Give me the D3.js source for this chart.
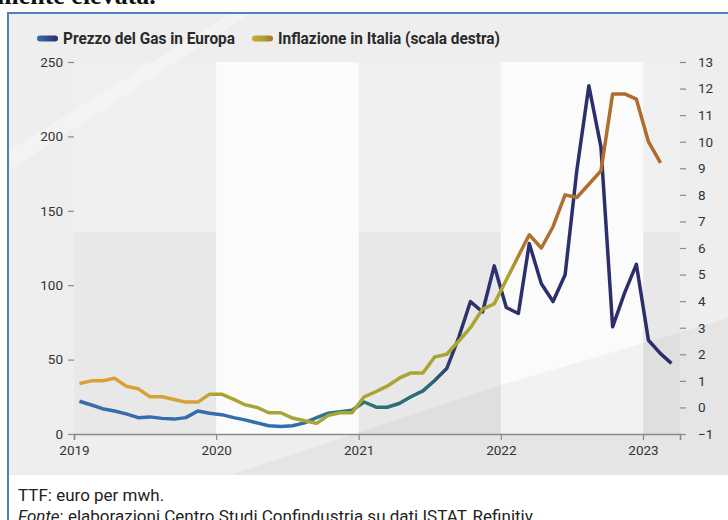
<!DOCTYPE html>
<html>
<head>
<meta charset="utf-8">
<script src="https://cdn.jsdelivr.net/npm/d3@7"></script>
<style>
  body { margin: 0; background: #fff; }
  svg { display: block; font-family: Roboto, "Liberation Sans", sans-serif; }
</style>
</head>
<body>
<div id="chart"></div>
<script>
// Monthly data, Jan 2019 onwards
var years = [2019, 2020, 2021, 2022, 2023];
var gasPrice = [
  22, 19.5, 17, 15.5, 13.5, 11, 11.5, 10.5, 10, 11, 15.5, 14,
  13, 11, 9.5, 7.5, 5.5, 5, 5.5, 7.5, 11, 14, 15, 16,
  21.5, 18, 18, 20.5, 25, 29, 36, 44, 65, 89, 82, 113,
  85, 81, 128, 101, 89, 107, 177, 234, 193, 72, 95, 114,
  63, 54, 47.5
];
var inflation = [
  0.9, 1.0, 1.0, 1.1, 0.8, 0.7, 0.4, 0.4, 0.3, 0.2, 0.2, 0.5,
  0.5, 0.3, 0.1, 0.0, -0.2, -0.2, -0.4, -0.5, -0.6, -0.3, -0.2, -0.2,
  0.4, 0.6, 0.8, 1.1, 1.3, 1.3, 1.9, 2.0, 2.5, 3.0, 3.7, 3.9,
  4.8, 5.7, 6.5, 6.0, 6.8, 8.0, 7.9, 8.4, 8.9, 11.8, 11.8, 11.6,
  10.0, 9.2
];
var leftTicks = [0, 50, 100, 150, 200, 250];
var rightTicks = [-1, 0, 1, 2, 3, 4, 5, 6, 7, 8, 9, 10, 11, 12, 13];
var legendLabels = ["Prezzo del Gas in Europa", "Inflazione in Italia (scala destra)"];
var noteText = "TTF: euro per mwh.";
var sourceLabel = "Fonte";
var sourceText = ": elaborazioni Centro Studi Confindustria su dati ISTAT, Refinitiv.";

var width = 728, height = 520;
var plot = {left: 74, right: 680, top: 62, bottom: 434};

var svg = d3.select("#chart").append("svg")
    .attr("width", width)
    .attr("height", height);

var x = d3.scaleTime()
    .domain([new Date(2019, 0, 1), new Date(2023, 3, 6)])
    .range([plot.left, plot.right]);
var yLeft = d3.scaleLinear().domain([0, 250]).range([plot.bottom, plot.top]);
var yRight = d3.scaleLinear().domain([-1, 13]).range([plot.bottom, plot.top]);

var gasData = gasPrice.map(function(v, i) { return {date: new Date(2019, i, 15), value: v}; });
var inflData = inflation.map(function(v, i) { return {date: new Date(2019, i, 15), value: v}; });

// gradients for the two lines
var defs = svg.append("defs");
function makeGradient(id, stops) {
  var g = defs.append("linearGradient")
      .attr("id", id)
      .attr("gradientUnits", "userSpaceOnUse")
      .attr("x1", plot.left).attr("x2", plot.right)
      .attr("y1", 0).attr("y2", 0);
  stops.forEach(function(s) {
    g.append("stop")
      .attr("offset", (x(s[0]) - plot.left) / (plot.right - plot.left))
      .attr("stop-color", s[1]);
  });
}
makeGradient("gasGrad", [
  [new Date(2019, 0, 1), "#3a6cab"],
  [new Date(2020, 6, 1), "#2f6fae"],
  [new Date(2021, 0, 1), "#2a7575"],
  [new Date(2021, 6, 1), "#2b6a76"],
  [new Date(2021, 8, 1), "#2e316f"],
  [new Date(2023, 3, 1), "#2c2c6a"]
]);
makeGradient("inflGrad", [
  [new Date(2019, 0, 1), "#d9a136"],
  [new Date(2019, 10, 15), "#d6a236"],
  [new Date(2020, 0, 1), "#a8a533"],
  [new Date(2022, 0, 20), "#a9a533"],
  [new Date(2022, 2, 1), "#b1702f"],
  [new Date(2023, 3, 1), "#ad6a2d"]
]);
var legGas = defs.append("linearGradient").attr("id", "legGas");
legGas.append("stop").attr("offset", 0).attr("stop-color", "#3a6cab");
legGas.append("stop").attr("offset", 1).attr("stop-color", "#2c2c6a");
var legInfl = defs.append("linearGradient").attr("id", "legInfl");
legInfl.append("stop").attr("offset", 0).attr("stop-color", "#d9a136");
legInfl.append("stop").attr("offset", 0.5).attr("stop-color", "#a8a533");
legInfl.append("stop").attr("offset", 1).attr("stop-color", "#b1702f");

// cut-off text of the page above the figure
svg.append("text")
    .attr("x", -3).attr("y", 4)
    .attr("font-family", "'Liberation Serif', serif")
    .attr("font-weight", "bold")
    .attr("font-size", 26)
    .attr("fill", "#111")
    .text("mente elevata.");

// panel
svg.append("rect")
    .attr("x", 8).attr("y", 13)
    .attr("width", width - 8).attr("height", 462)
    .attr("fill", "#eeeeee");

// plot background and year bands
svg.append("rect")
    .attr("x", plot.left).attr("y", plot.top)
    .attr("width", plot.right - plot.left).attr("height", plot.bottom - plot.top)
    .attr("fill", "#fbfbfb");

var split = yLeft(136);
years.forEach(function(yr, i) {
  if (i % 2 == 1) return;
  var x0 = x(new Date(yr, 0, 1));
  var x1 = Math.min(x(new Date(yr + 1, 0, 1)), plot.right);
  svg.append("rect")
      .attr("x", x0).attr("y", plot.top)
      .attr("width", x1 - x0).attr("height", split - plot.top)
      .attr("fill", "#f0f0f0");
  svg.append("rect")
      .attr("x", x0).attr("y", split)
      .attr("width", x1 - x0).attr("height", plot.bottom - split)
      .attr("fill", "#e8e8e8");
});

// light diagonal shading like the scanned slide
svg.append("polygon")
    .attr("points", "230,475 501,385 728,318 728,475")
    .attr("fill", "#000")
    .attr("opacity", 0.035);
svg.append("polygon")
    .attr("points", "10,150 230,14 250,14 10,170")
    .attr("fill", "#fff")
    .attr("opacity", 0.3);

// border
svg.append("path")
    .attr("d", "M8," + height + "V13H" + width)
    .attr("fill", "none")
    .attr("stroke", "#4f80c0")
    .attr("stroke-width", 2);

// axes
var axisColor = "#8a8a8a";
var textColor = "#333";

var gLeft = svg.append("g")
    .attr("transform", "translate(" + plot.left + ",0)")
    .call(d3.axisLeft(yLeft).tickValues(leftTicks).tickSize(6).tickPadding(5));
gLeft.select(".domain").remove();

var gRight = svg.append("g")
    .attr("transform", "translate(" + plot.right + ",0)")
    .call(d3.axisRight(yRight).tickValues(rightTicks).tickSize(6).tickPadding(12));
gRight.select(".domain").remove();

var xTicks = years.map(function(yr) { return new Date(yr, 0, 1); });
var gBottom = svg.append("g")
    .attr("transform", "translate(0," + plot.bottom + ")")
    .call(d3.axisBottom(x).tickValues(xTicks.concat([x.domain()[1]]))
      .tickFormat(function(d, i) { return i < years.length ? years[i] : ""; })
      .tickSizeOuter(0).tickSize(6).tickPadding(5));
gBottom.select(".domain").attr("stroke-width", 1.5);

[gLeft, gRight, gBottom].forEach(function(g) {
  g.selectAll(".tick line").attr("stroke", axisColor).attr("stroke-width", 1.2);
  g.selectAll(".domain").attr("stroke", axisColor);
  g.selectAll(".tick text")
      .attr("fill", textColor)
      .attr("font-size", 13.5)
      .attr("font-family", "Roboto, sans-serif");
});

// lines
var gasLine = d3.line()
    .x(function(d) { return x(d.date); })
    .y(function(d) { return yLeft(d.value); });
var inflLine = d3.line()
    .x(function(d) { return x(d.date); })
    .y(function(d) { return yRight(d.value); });

svg.append("path")
    .datum(gasData)
    .attr("d", gasLine)
    .attr("fill", "none")
    .attr("stroke", "url(#gasGrad)")
    .attr("stroke-width", 3.5)
    .attr("stroke-linejoin", "round");

svg.append("path")
    .datum(inflData)
    .attr("d", inflLine)
    .attr("fill", "none")
    .attr("stroke", "url(#inflGrad)")
    .attr("stroke-width", 3.5)
    .attr("stroke-linejoin", "round");

// legend
var legend = [
  {x: 37, label: legendLabels[0], fill: "url(#legGas)", len: 172},
  {x: 252, label: legendLabels[1], fill: "url(#legInfl)", len: 222}
];
legend.forEach(function(l) {
  svg.append("rect")
      .attr("x", l.x).attr("y", 35.5)
      .attr("width", 21).attr("height", 6)
      .attr("rx", 3)
      .attr("fill", l.fill);
  svg.append("text")
      .attr("x", l.x + 26).attr("y", 44)
      .attr("font-size", 16)
      .attr("font-weight", "bold")
      .attr("fill", "#2a2a2a")
      .attr("textLength", l.len)
      .attr("lengthAdjust", "spacingAndGlyphs")
      .text(l.label);
});

// notes
svg.append("text")
    .attr("x", 18).attr("y", 501)
    .attr("font-size", 17)
    .attr("fill", "#222")
    .text(noteText);
var src = svg.append("text")
    .attr("x", 18).attr("y", 522)
    .attr("font-size", 17)
    .attr("fill", "#222");
src.append("tspan").attr("font-style", "italic").text(sourceLabel);
src.append("tspan").text(sourceText);
</script>
</body>
</html>
